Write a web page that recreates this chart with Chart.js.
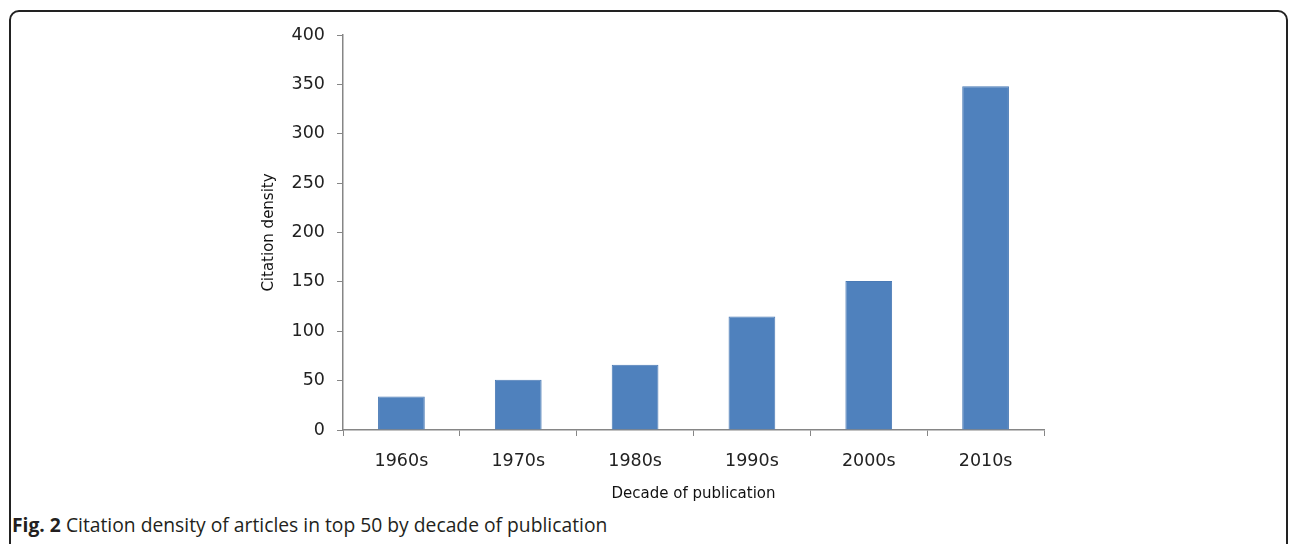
<!DOCTYPE html>
<html>
<head>
<meta charset="utf-8">
<script src="https://cdn.jsdelivr.net/npm/chart.js@4"></script>
<style>
  body { margin: 0; background: #fff; }
  #wrap { position: relative; width: 1292px; height: 544px; overflow: hidden; }
  #frame {
    position: absolute; left: 9px; top: 10px; width: 1279px; height: 560px;
    border: 2px solid #222; border-radius: 10px; box-sizing: border-box;
  }
  #chartBox { position: absolute; left: 0; top: 0; width: 1292px; height: 510px; }
  #caption {
    position: absolute; left: 12px; top: 511px;
    font-family: "Open Sans", sans-serif; font-size: 19.3px; color: #231f20;
  }
</style>
</head>
<body>
<div id="wrap">
  <div id="frame"></div>
  <div id="chartBox"><canvas id="densityChart"></canvas></div>
  <div id="caption"><b>Fig. 2</b> Citation density of articles in top 50 by decade of publication</div>
</div>
<script>
const decades = ['1960s', '1970s', '1980s', '1990s', '2000s', '2010s'];
const citationDensity = [34, 51, 66, 115, 151, 348];
const yTicks = [0, 50, 100, 150, 200, 250, 300, 350, 400];

const axisColor = '#868686';
const labelFont = { family: 'DejaVu Sans', size: 17.5 };
const titleFont = { family: 'DejaVu Sans', size: 15 };

new Chart(document.getElementById('densityChart'), {
    type: 'bar',
    data: {
        labels: decades,
        datasets: [{
            label: 'Citation density',
            data: citationDensity,
            backgroundColor: '#4f81bd',
            borderColor: '#4a7ab5',
            borderWidth: 1,
            categoryPercentage: 1,
            barPercentage: 0.4
        }]
    },
    options: {
        responsive: true,
        maintainAspectRatio: false,
        animation: false,
        layout: { padding: { left: 256, right: 248, top: 35, bottom: 0 } },
        scales: {
            x: {
                grid: { drawOnChartArea: false, color: axisColor, tickLength: 6, offset: true },
                border: { color: axisColor, width: 1.5 },
                ticks: { color: '#222', font: labelFont, padding: 15 },
                title: {
                    display: true, text: 'Decade of publication', color: '#111',
                    font: titleFont, padding: { top: 8, bottom: 7 }
                },
                afterFit: function (scale) { scale.height = 80; }
            },
            y: {
                min: 0, max: 400,
                afterBuildTicks: function (scale) {
                    scale.ticks = yTicks.map(v => ({ value: v }));
                },
                grid: { drawOnChartArea: false, color: axisColor, tickLength: 6 },
                border: { color: axisColor, width: 1.5 },
                ticks: { color: '#222', font: labelFont, padding: 12 },
                title: {
                    display: true, text: 'Citation density', color: '#111',
                    font: titleFont, padding: { top: 4, bottom: 4 }
                },
                afterFit: function (scale) { scale.width = 87; }
            }
        },
        plugins: {
            legend: { display: false },
            tooltip: { enabled: false }
        }
    }
});
</script>
</body>
</html>
